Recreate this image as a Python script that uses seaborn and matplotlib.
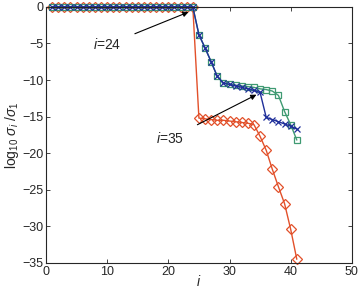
import numpy as np
import pandas as pd
import matplotlib
matplotlib.use("Agg")
import matplotlib.pyplot as plt
import seaborn as sns

# singular value decay, log10(sigma_i / sigma_1)
idx = list(range(1, 42))
flat = [0.0] * 24
red_vals = flat + [-15.2, -15.3, -15.4, -15.5, -15.5, -15.6, -15.7, -15.8, -15.9,
                   -16.1, -17.7, -19.6, -22.2, -24.6, -26.9, -30.4, -34.5]
green_vals = flat + [-3.8, -5.6, -7.5, -9.5, -10.4, -10.6, -10.7, -10.8, -10.9,
                     -11.0, -11.2, -11.3, -11.5, -12.1, -14.3, -16.1, -18.2]
blue_vals = flat + [-3.8, -5.6, -7.5, -9.5, -10.4, -10.6, -10.8, -11.0, -11.2,
                    -11.4, -11.7, -15.1, -15.4, -15.7, -16.0, -16.3, -16.7]

sns.set_style("ticks")
plt.rcParams['font.family'] = ['Liberation Sans', 'DejaVu Sans']
plt.rcParams['mathtext.fontset'] = 'custom'
plt.rcParams['mathtext.rm'] = 'Liberation Sans'
plt.rcParams['mathtext.it'] = 'Liberation Sans:italic'

df = pd.DataFrame({'i': idx, 'red': red_vals, 'green': green_vals, 'blue': blue_vals})

fig = plt.figure(figsize=(3.62, 2.88), dpi=100)
ax = fig.add_axes([0.127, 0.087, 0.845, 0.889])

sns.lineplot(x='i', y='red', data=df, ax=ax, color='#e2502a', lw=1,
             marker='D', ms=5.5, mfc='none', mec='#e2502a', mew=0.9, clip_on=False)
sns.lineplot(x='i', y='green', data=df, ax=ax, color='#3f9a72', lw=1,
             marker='s', ms=5, mfc='none', mec='#3f9a72', mew=0.9, clip_on=False)
sns.lineplot(x='i', y='blue', data=df, ax=ax, color='#1f2f9a', lw=1,
             marker='x', ms=4.5, mec='#1f2f9a', mew=0.9, clip_on=False)

ax.set_xlim(0, 50)
ax.set_ylim(-35, 0)
ax.set_xticks([0, 10, 20, 30, 40, 50])
ax.set_yticks([0, -5, -10, -15, -20, -25, -30, -35])
ax.set_yticklabels(['0', '\u22125', '\u221210', '\u221215', '\u221220', '\u221225', '\u221230', '\u221235'])
ax.tick_params(direction='in', top=True, right=True, labelsize=9, length=3, width=0.6, pad=2)
for s in ax.spines.values():
    s.set_linewidth(0.8)
ax.set_xlabel(r'$i$', fontsize=10, labelpad=-2.5)
ax.set_ylabel(r'log$_{10}$ $\sigma_i$ /$\sigma_1$', fontsize=10, labelpad=1)

ax.annotate(r'$i$=24', xy=(23.3, -0.7), xytext=(10, -5.2), fontsize=10,
            ha='center', va='center',
            arrowprops=dict(arrowstyle='-|>', color='black', lw=0.8, mutation_scale=8,
                            shrinkA=8, shrinkB=0))
ax.annotate(r'$i$=35', xy=(34.4, -12.0), xytext=(20.3, -18.0), fontsize=10,
            ha='center', va='center',
            arrowprops=dict(arrowstyle='-|>', color='black', lw=0.8, mutation_scale=8,
                            shrinkA=8, shrinkB=0))

fig.savefig('out.png', dpi=100)
